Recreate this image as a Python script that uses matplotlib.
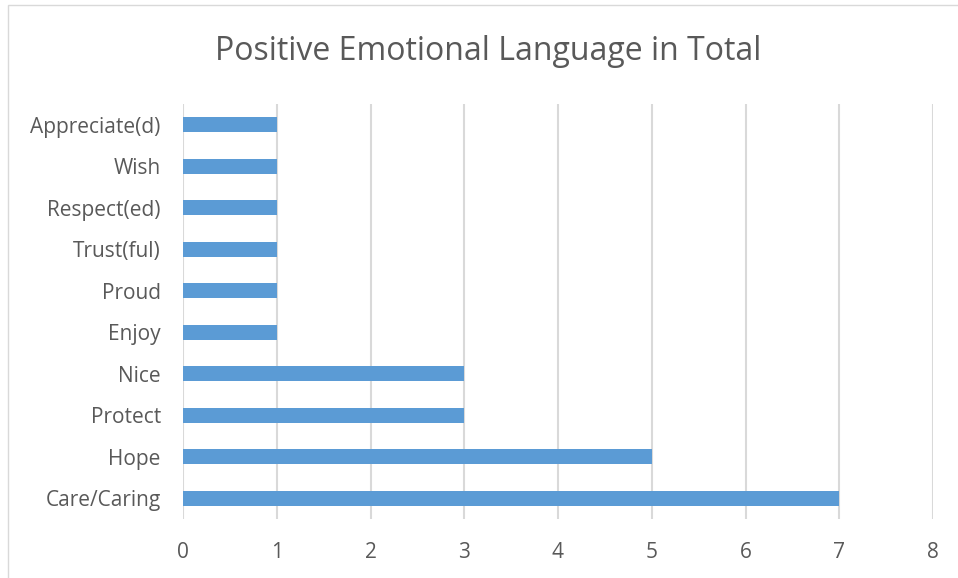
import matplotlib.pyplot as plt
from matplotlib.patches import Rectangle

categories = ["Care/Caring", "Hope", "Protect", "Nice", "Enjoy",
              "Proud", "Trust(ful)", "Respect(ed)", "Wish", "Appreciate(d)"]
counts = [7, 5, 3, 3, 1, 1, 1, 1, 1, 1]
xticks = [0, 1, 2, 3, 4, 5, 6, 7, 8]

plt.rcParams["font.family"] = ["Open Sans", "DejaVu Sans"]
text_color = "#595959"

fig = plt.figure(figsize=(9.58, 5.78), dpi=100)
ax = fig.add_axes([183 / 958, 1 - 519 / 578, 750 / 958, 415 / 578])

ax.barh(range(len(categories)), counts, height=0.35, color="#5B9BD5", zorder=3)

ax.set_xlim(0, 8)
ax.set_ylim(-0.5, len(categories) - 0.5)
ax.set_xticks(xticks)
ax.set_yticks(range(len(categories)))
ax.set_yticklabels(categories)
ax.tick_params(axis="both", length=0, labelsize=15, colors=text_color)
ax.tick_params(axis="x", pad=16.5)
ax.tick_params(axis="y", pad=16)
ax.grid(axis="x", color="#D9D9D9", linewidth=1.5, zorder=0)
for s in ax.spines.values():
    s.set_visible(False)

fig.text(488 / 958, 1 - 52 / 578, "Positive Emotional Language in Total",
         ha="center", va="center", fontsize=23, color=text_color)

# chart frame
fig.patches.append(Rectangle((8 / 958, -0.01), 1.0, 1 - 5 / 578 + 0.01,
                             transform=fig.transFigure, fill=False,
                             edgecolor="#D9D9D9", linewidth=1))

fig.savefig("out.png", dpi=100)
